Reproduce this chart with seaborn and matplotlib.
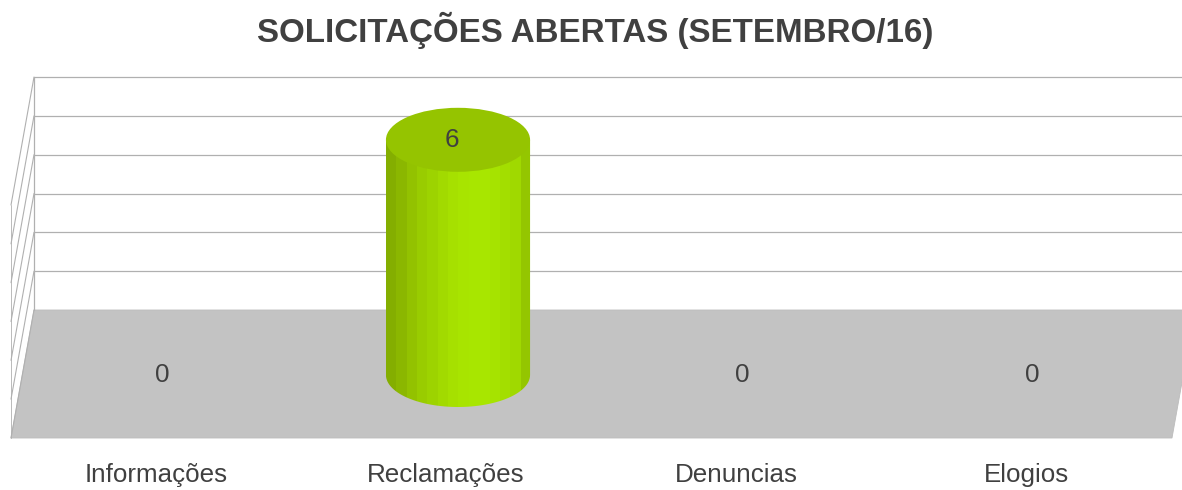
import numpy as np
import pandas as pd
import seaborn as sns
import matplotlib.pyplot as plt
from matplotlib.colors import to_rgb
from matplotlib.patches import Ellipse, PathPatch, Polygon
from matplotlib.path import Path
from matplotlib.transforms import ScaledTranslation

categories = ['Informações', 'Reclamações', 'Denuncias', 'Elogios']
values = [0, 6, 0, 0]
title = 'SOLICITAÇÕES ABERTAS (SETEMBRO/16)'
wall_ticks = [0, 1, 2, 3, 4, 5, 6]

# shading of the cylinder side, left to right
side_colors = ['#84ae00', '#8bb700', '#93c200', '#99cc00', '#9dd300', '#a2da00', '#a6e000',
               '#a8e400', '#a8e600', '#a8e600', '#a6e300', '#a3de00', '#a0d900', '#94c600']
top_color = '#95c400'
floor_color = '#c3c3c3'
grid_color = '#b0b0b0'
text_color = '#404040'

W, H = 1182, 490
dpi = 100

sns.set_theme(style='white')
plt.rcParams['font.family'] = ['Liberation Sans', 'DejaVu Sans']

fig = plt.figure(figsize=(W / dpi, H / dpi), dpi=dpi, facecolor='white')

# the 3d box behind the chart, in pixels
bg = fig.add_axes([0, 0, 1, 1])
bg.set_xlim(0, W)
bg.set_ylim(H, 0)
bg.axis('off')
back_zero, back_step = 310, 38.83
depth_x, depth_y = 23, 128
left_x, right_x = 34, 1195
for v in wall_ticks:
    y = back_zero - v * back_step
    if v > 0:
        bg.plot([left_x, W + 2], [y, y], color=grid_color, lw=0.9, solid_capstyle='butt')
    bg.plot([left_x, left_x - depth_x], [y, y + depth_y], color=grid_color, lw=0.8)
bg.plot([left_x, left_x], [back_zero, back_zero - 6 * back_step], color=grid_color, lw=0.9)
bg.plot([left_x - depth_x, left_x - depth_x],
        [back_zero + depth_y, back_zero - 6 * back_step + depth_y], color=grid_color, lw=0.6)
bg.add_patch(Polygon([(left_x, back_zero), (right_x, back_zero),
                      (right_x - depth_x, back_zero + depth_y),
                      (left_x - depth_x, back_zero + depth_y)],
                     closed=True, facecolor=floor_color, edgecolor='#bcbcbc', lw=0.6))

# main axes: value 0 sits at pixel y 375, 39.2 px per unit
ax_left, ax_right, ax_top, ax_bottom = 23, 1183, 60, 455
zero_y, unit = 375, 39.2
ax = fig.add_axes([ax_left / W, 1 - ax_bottom / H, (ax_right - ax_left) / W, (ax_bottom - ax_top) / H])
ax.patch.set_alpha(0)

df = pd.DataFrame({'categoria': categories, 'valor': values})
sns.barplot(data=df, x='categoria', y='valor', width=0.497, color=side_colors[8],
            saturation=1, ax=ax, zorder=2)
ax.set_xlabel('')
ax.set_ylabel('')
ax.set_yticks([])
sns.despine(ax=ax, left=True, bottom=True)

# round the non-empty bars off into cylinders
cap_h = 64 / unit
bars = list(ax.patches)
for bar in bars:
    bar.set_visible(False)
    if bar.get_height() == 0:
        continue
    x0, w, top = bar.get_x(), bar.get_width(), bar.get_height()
    cx = x0 + w / 2
    t = np.linspace(np.pi, 2 * np.pi, 60)
    xs = cx + w / 2 * np.cos(t)
    ys = cap_h / 2 * np.sin(t)
    outline = np.vstack([[x0, top], np.column_stack([xs, ys]), [x0 + w, top], [x0, top]])
    clip = PathPatch(Path(outline), transform=ax.transData, facecolor='none', edgecolor='none')
    ax.add_patch(clip)
    shade = np.array([[to_rgb(c) for c in side_colors]])
    img = ax.imshow(shade, extent=(x0, x0 + w, -cap_h / 2, top), aspect='auto',
                    interpolation='nearest', zorder=2)
    img.set_clip_path(clip)
    ax.add_patch(Ellipse((cx, top), w, cap_h, facecolor=top_color, edgecolor='none', zorder=3))

ax.set_xlim(-0.5, 3.5)
ax.set_ylim(-(ax_bottom - zero_y) / unit, (zero_y - ax_top) / unit)

for i, v in enumerate(values):
    ax.annotate(str(v), (i, v), xytext=(-6, 0), textcoords='offset pixels', ha='center', va='center',
                fontsize=18.7, color=text_color, zorder=4)

ax.set_xticks(range(len(categories)))
ax.set_xticklabels(categories, fontsize=18.7, color=text_color)
ax.tick_params(axis='x', length=0, pad=6)
shift = ScaledTranslation(-12 / dpi, 0, fig.dpi_scale_trans)
for label in ax.get_xticklabels():
    label.set_transform(label.get_transform() + shift)

fig.text(595 / W, 1 - 30 / H, title, ha='center', va='center', fontsize=23.9,
         fontweight='bold', color=text_color)

fig.savefig('out.png', dpi=dpi)
